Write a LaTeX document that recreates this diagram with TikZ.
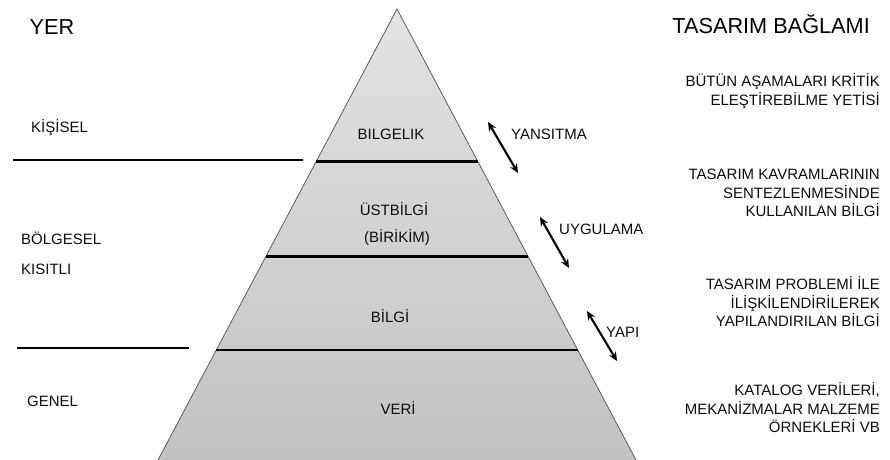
\documentclass[tikz,border=0pt]{standalone}
\usepackage{fontspec}
\setmainfont{Liberation Sans}
\usetikzlibrary{calc, arrows.meta}

\begin{document}
\begin{tikzpicture}[x=1pt, y=-1pt,
    big/.style={font=\fontsize{21.7}{26}\selectfont, text=black, inner sep=0pt},
    lbl/.style={font=\fontsize{15}{18.5}\selectfont, text=black!95, inner sep=0pt},
    ctx/.style={lbl, align=right, anchor=east},
    bar/.style={line width=2.4pt, black},
    dbl/.style={{Stealth[length=9pt,width=8pt]}-{Stealth[length=9pt,width=8pt]}, line width=2.1pt}]
    \useasboundingbox (0,0) rectangle (890,459);
    % pyramid
    \coordinate (top) at (397,9);
    \coordinate (base-l) at (158,460);
    \coordinate (base-r) at (636,460);
    \shade[top color=gray!22, bottom color=gray!48] (top) -- (base-l) -- (base-r) -- cycle;
    \draw[black!70, line width=0.7pt] (base-l) -- (top) -- (base-r);
    \foreach \t/\n in {0.338/a, 0.549/b, 0.756/c}
    {
        \coordinate (\n-l) at ($(top)!\t!(base-l)$);
        \coordinate (\n-r) at ($(top)!\t!(base-r)$);
        \draw[bar] (\n-l) -- (\n-r);
    }
    % left side
    \node[big] (yer) at (52,27) {YER};
    \node[lbl, anchor=west] (kisisel) at (31,128) {KİŞİSEL};
    \node[lbl, anchor=west] (bolgesel) at (21,238) {BÖLGESEL};
    \node[lbl, anchor=west] (kisitli) at (21,269) {KISITLI};
    \node[lbl, anchor=west] (genel) at (27,401) {GENEL};
    \coordinate (k1) at (13,160);  \coordinate (k2) at (303,160);
    \coordinate (g1) at (17,348);  \coordinate (g2) at (189,348);
    \draw[bar] (k1) -- (k2);
    \draw[bar] (g1) -- (g2);
    % levels
    \node[lbl] (bilgelik) at (391,134) {BILGELIK};
    \node[lbl] (ustbilgi) at (394,209) {ÜSTBİLGİ};
    \node[lbl] (birikim) at (397,238) {(BİRİKİM)};
    \node[lbl] (bilgi) at (390,316) {BİLGİ};
    \node[lbl] (veri) at (398,408) {VERİ};
    % processes
    \node[lbl, anchor=west] (yansitma) at (511,134) {YANSITMA};
    \node[lbl, anchor=west] (uygulama) at (559,229) {UYGULAMA};
    \node[lbl, anchor=west] (yapi) at (606,332) {YAPI};
    \coordinate (y1) at (488,122); \coordinate (y2) at (518,173);
    \coordinate (u1) at (540,217); \coordinate (u2) at (569,268);
    \coordinate (p1) at (587,311); \coordinate (p2) at (617,361);
    \draw[dbl] (y1) -- (y2);
    \draw[dbl] (u1) -- (u2);
    \draw[dbl] (p1) -- (p2);
    % design context
    \node[big, anchor=east] (baglam) at (870,24) {TASARIM BAĞLAMI};
    \node[ctx] (kritik) at (880,91) {BÜTÜN AŞAMALARI KRİTİK\\ELEŞTİREBİLME YETİSİ};
    \node[ctx] (sentez) at (880,193) {TASARIM KAVRAMLARININ\\SENTEZLENMESİNDE\\KULLANILAN BİLGİ};
    \node[ctx] (problem) at (880,302) {TASARIM PROBLEMİ İLE\\İLİŞKİLENDİRİLEREK\\YAPILANDIRILAN BİLGİ};
    \node[ctx] (katalog) at (880,408) {KATALOG VERİLERİ,\\MEKANİZMALAR MALZEME\\ÖRNEKLERİ VB};
\end{tikzpicture}
\end{document}
